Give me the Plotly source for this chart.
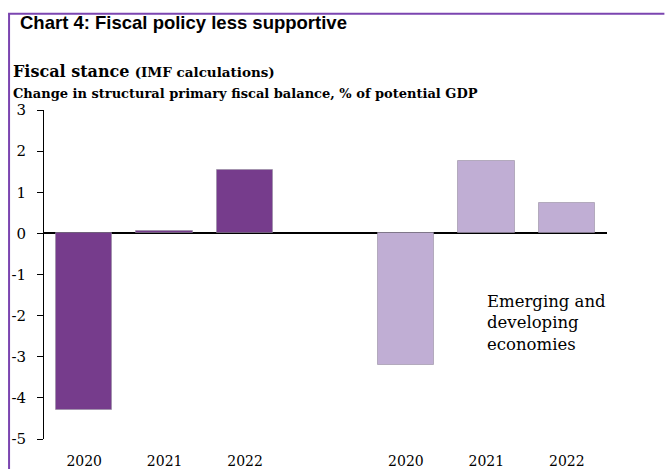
import plotly.graph_objects as go

# Fiscal stance by year, change in structural primary balance (% of potential GDP)
years = ["2020", "2021", "2022"]
advanced = [-4.3, 0.05, 1.55]
emerging = [-3.2, 1.75, 0.75]
y_ticks = [3, 2, 1, 0, -1, -2, -3, -4, -5]
y_tick_labels = ["3", "2", "1", "0", "-1", "-2", "-3", "-4", "-5"]

W, H = 665, 469
L, R, T, B = 43.5, 607.5, 109.5, 439.0

def px(x):
    return (x - L) / (R - L)

def py(y):
    return (B - y) / (B - T)

n = len(years)
adv_x = list(range(n))
em_x = [i + n + 1 for i in range(n)]

DARK = "#763C8C"
LIGHT = "#C0AED4"
SERIF = "DejaVu Serif"

fig = go.Figure()
fig.add_trace(go.Bar(x=adv_x, y=advanced, width=0.7, marker=dict(color=DARK, line=dict(color="rgba(150,140,160,0.6)", width=1))))
fig.add_trace(go.Bar(x=em_x, y=emerging, width=0.7, marker=dict(color=LIGHT, line=dict(color="rgba(150,140,160,0.6)", width=1))))

fig.update_layout(
    width=W, height=H,
    margin=dict(l=L, r=W - R, t=T, b=H - B, pad=0, autoexpand=False),
    paper_bgcolor="white", plot_bgcolor="white",
    showlegend=False,
    font=dict(family=SERIF, color="black", size=14),
    bargap=0,
)
fig.update_xaxes(
    range=[-0.5, 2 * n + 0.5],
    tickvals=adv_x + em_x, ticktext=years + years,
    showline=False, showgrid=False, zeroline=False, ticks="",
    tickfont=dict(family=SERIF, size=14, color="black"),
    ticklabelstandoff=12, automargin=False,
)
fig.update_yaxes(
    range=[-5, 3],
    tickvals=y_ticks, ticktext=y_tick_labels,
    showline=True, linecolor="black", linewidth=1,
    ticks="outside", ticklen=6, tickcolor="black", tickwidth=1,
    showgrid=False,
    zeroline=True, zerolinecolor="black", zerolinewidth=1.5,
    tickfont=dict(family=SERIF, size=15, color="black"),
    ticklabelstandoff=8, automargin=False,
)

BORDER = "#7B45B0"
fig.add_shape(type="line", xref="paper", yref="paper", x0=px(7.5), x1=px(W), y0=py(13), y1=py(13),
              line=dict(color=BORDER, width=2))
fig.add_shape(type="line", xref="paper", yref="paper", x0=px(8.5), x1=px(8.5), y0=py(13), y1=py(H),
              line=dict(color=BORDER, width=2))

def label(x, y, text, size, family, anchor="left", yanchor="middle"):
    fig.add_annotation(xref="paper", yref="paper", x=px(x), y=py(y), text=text, showarrow=False,
                       xanchor=anchor, yanchor=yanchor, align="left",
                       font=dict(family=family, size=size, color="black"))

label(17, 22, "<b>Chart 4: Fiscal policy less supportive</b>", 18.5, "Liberation Sans, Arial")
label(10, 71, "<b>Fiscal stance</b> <b><span style='font-size:13.5px'>(IMF calculations)</span></b>", 16, SERIF)
label(10, 93, "<b>Change in structural primary fiscal balance, % of potential GDP</b>", 13, SERIF)
label(485, 322.5, "Emerging and<br>developing<br>economies", 16.5, SERIF)

fig.write_html("out.html")
